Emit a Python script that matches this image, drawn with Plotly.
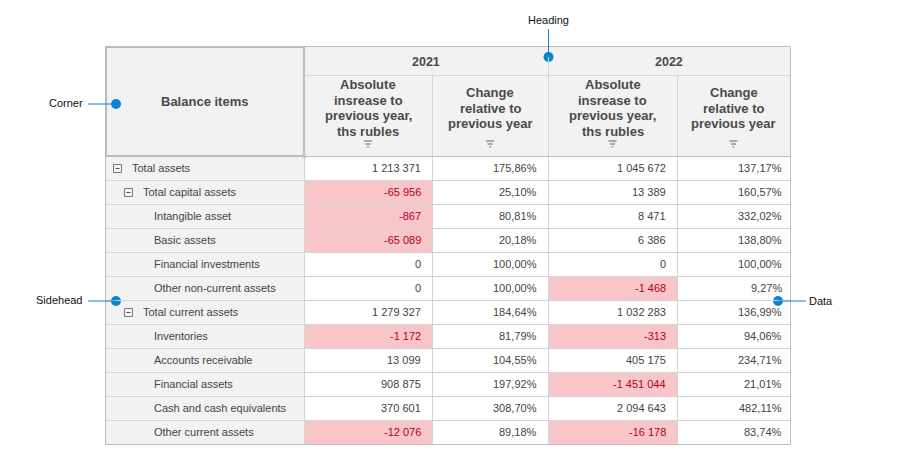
import plotly.graph_objects as go

# ---------------- data ----------------
row_labels = ["Total assets", "Total capital assets", "Intangible asset", "Basic assets",
              "Financial investments", "Other non-current assets", "Total current assets",
              "Inventories", "Accounts receivable", "Financial assets",
              "Cash and cash equivalents", "Other current assets"]
row_levels = [0, 1, 2, 2, 2, 2, 1, 2, 2, 2, 2, 2]
abs_2021 = [1213371, -65956, -867, -65089, 0, 0, 1279327, -1172, 13099, 908875, 370601, -12076]
chg_2021 = [175.86, 25.10, 80.81, 20.18, 100.00, 100.00, 184.64, 81.79, 104.55, 197.92, 308.70, 89.18]
abs_2022 = [1045672, 13389, 8471, 6386, 0, -1468, 1032283, -313, 405175, -1451044, 2094643, -16178]
chg_2022 = [137.17, 160.57, 332.02, 138.80, 100.00, 9.27, 136.99, 94.06, 234.71, 21.01, 482.11, 83.74]
years = ["2021", "2022"]
measure_labels = [["Absolute", "insrease to", "previous year,", "ths rubles"],
                  ["Change", "relative to", "previous year"]]
corner_label = "Balance items"
callout_labels = ["Heading", "Corner", "Sidehead", "Data"]

# ---------------- layout constants ----------------
W, H = 898, 468
OFF = 8  # page body margin compensation
X0 = 105
col_w = [199, 128, 116, 129, 113]
edges = [X0]
for w in col_w:
    edges.append(edges[-1] + w)
Y0 = 46
H1, H2, RH = 29, 81, 24
y_h1 = Y0 + H1
y_body = y_h1 + H2
y_end = y_body + RH * len(row_labels)

HDR_BG = "#f2f2f2"
GRID = "#d4d4d4"
BORDER = "#bdbdbd"
NEG_BG = "#f8c5c8"
NEG_TX = "#b3001b"
TXT = "#444444"
HDR_TX = "#4a4a4a"
BLUE = "#0a84cf"
FONT = "Arial, Liberation Sans, sans-serif"

def fmt_int(v):
    s = f"{abs(v):,}".replace(",", " ")
    return ("-" if v < 0 else "") + s

def fmt_pct(v):
    return f"{v:.2f}".replace(".", ",") + "%"

shapes = []
annots = []

def rect(x0, y0, x1, y1, fill, layer="below"):
    shapes.append(dict(type="rect", xref="x", yref="y", x0=x0, y0=y0, x1=x1, y1=y1,
                       fillcolor=fill, line=dict(width=0), layer=layer))

def line(x0, y0, x1, y1, color=GRID, width=1):
    shapes.append(dict(type="line", xref="x", yref="y", x0=x0, y0=y0, x1=x1, y1=y1,
                       line=dict(color=color, width=width), layer="above"))

def text(x, y, s, size=11, color=TXT, xa="center", bold=False, ya="middle"):
    annots.append(dict(x=x, y=y, xref="x", yref="y", text=(f"<b>{s}</b>" if bold else s),
                       showarrow=False, xanchor=xa, yanchor=ya,
                       font=dict(family=FONT, size=size, color=color)))

# backgrounds
rect(edges[0], Y0, edges[-1], y_body, HDR_BG)
rect(edges[0], y_body, edges[1], y_end, HDR_BG)
rect(edges[1], y_body, edges[-1], y_end, "white")

columns = [abs_2021, chg_2021, abs_2022, chg_2022]
is_abs = [True, False, True, False]
pads = [11, 11, 11, 8]

for r in range(len(row_labels)):
    yc = y_body + RH * r + RH / 2
    for c, vals in enumerate(columns):
        v = vals[r]
        xl, xr = edges[c + 1], edges[c + 2]
        neg = is_abs[c] and v < 0
        if neg:
            rect(xl, y_body + RH * r, xr, y_body + RH * (r + 1), NEG_BG)
        s = fmt_int(v) if is_abs[c] else fmt_pct(v)
        text(xr - pads[c] + 2, yc, s, size=11, color=NEG_TX if neg else TXT, xa="right")
    lvl = row_levels[r]
    text(132 + 11 * lvl - 2, yc, row_labels[r], size=11, color=TXT, xa="left")
    if lvl < 2:
        bx = 113 + 11 * lvl
        shapes.append(dict(type="rect", xref="x", yref="y", x0=bx + 0.5, y0=yc - 3.5,
                           x1=bx + 8.5, y1=yc + 4.5, fillcolor="rgba(0,0,0,0)",
                           line=dict(color="#7a7a7a", width=1), layer="above"))
        line(bx + 2.5, yc + 0.5, bx + 6.5, yc + 0.5, color="#555555", width=1)

# horizontal grid lines in body
for r in range(1, len(row_labels)):
    yy = y_body + RH * r + 0.5
    line(edges[0], yy, edges[-1], yy)
# vertical grid lines
for c in range(2, len(edges) - 1):
    line(edges[c] + 0.5, y_h1, edges[c] + 0.5, y_end)
line(edges[1] + 0.5, y_body, edges[1] + 0.5, y_end)
line(edges[3] + 0.5, Y0, edges[3] + 0.5, y_h1)
line(edges[1], y_h1 + 0.5, edges[-1], y_h1 + 0.5)
line(edges[1], y_body + 0.5, edges[-1], y_body + 0.5, color=BORDER)

# outer border
shapes.append(dict(type="rect", xref="x", yref="y", x0=edges[0] + 0.5, y0=Y0 + 0.5,
                   x1=edges[-1] + 0.5, y1=y_end + 0.5, fillcolor="rgba(0,0,0,0)",
                   line=dict(color=BORDER, width=1), layer="above"))
# corner border
shapes.append(dict(type="rect", xref="x", yref="y", x0=edges[0] + 1, y0=Y0 + 1,
                   x1=edges[1], y1=y_body, fillcolor="rgba(0,0,0,0)",
                   line=dict(color="#bcbcbc", width=2), layer="above"))
rect(edges[1] - 2, y_body - 2, edges[1] + 2, y_body + 2, "#c8c8c8", layer="above")

# headers
LINE_H = 15.4
text((edges[0] + edges[1]) / 2, 101, corner_label, size=13, color=HDR_TX, bold=True)
for i, yr in enumerate(years):
    xl, xr = edges[1 + 2 * i], edges[3 + 2 * i]
    text((xl + xr) / 2, (Y0 + y_h1) / 2 + 1, yr, size=12.5, color=HDR_TX, bold=True)
    for j, lines in enumerate(measure_labels):
        cx = (edges[1 + 2 * i + j] + edges[2 + 2 * i + j]) / 2
        n = len(lines)
        for k, ln in enumerate(lines):
            text(cx, 108 + (k - (n - 1) / 2) * LINE_H, ln, size=13, color=HDR_TX, bold=True)
        # filter icon
        rect(cx - 4, 140, cx + 4, 142, "#a8a8a8", layer="above")
        rect(cx - 2.5, 143, cx + 2.5, 145, "#a8a8a8", layer="above")
        rect(cx - 1, 146, cx + 1, 147.5, "#a8a8a8", layer="above")

# callouts
call_pts = [(edges[3] + 0.5, 57), (116, 104), (116, 301), (778, 301)]
line(edges[3] + 0.5, 29, edges[3] + 0.5, 57, color=BLUE, width=1)
text(edges[3] + 0.5, 20, callout_labels[0], size=11, color="#111111")
for k, (px, py) in zip([1, 2], call_pts[1:3]):
    line(88, py, px, py, color=BLUE, width=1)
    text(85, py - 1, callout_labels[k], size=11, color="#111111", xa="right")
line(call_pts[3][0], call_pts[3][1], 806, call_pts[3][1], color=BLUE, width=1)
text(807, call_pts[3][1], callout_labels[3], size=11, color="#111111", xa="left")

fig = go.Figure()
fig.add_trace(go.Scatter(x=[p[0] for p in call_pts], y=[p[1] for p in call_pts], mode="markers",
                         marker=dict(size=10, color=BLUE), hoverinfo="skip", showlegend=False))
fig.update_layout(width=W, height=H, margin=dict(l=0, r=0, t=0, b=0),
                  paper_bgcolor="white", plot_bgcolor="white",
                  xaxis=dict(range=[OFF, W + OFF], visible=False, fixedrange=True),
                  yaxis=dict(range=[H + OFF, OFF], visible=False, fixedrange=True),
                  shapes=shapes, annotations=annots, showlegend=False)
fig.write_html("out.html", config={"displayModeBar": False})
